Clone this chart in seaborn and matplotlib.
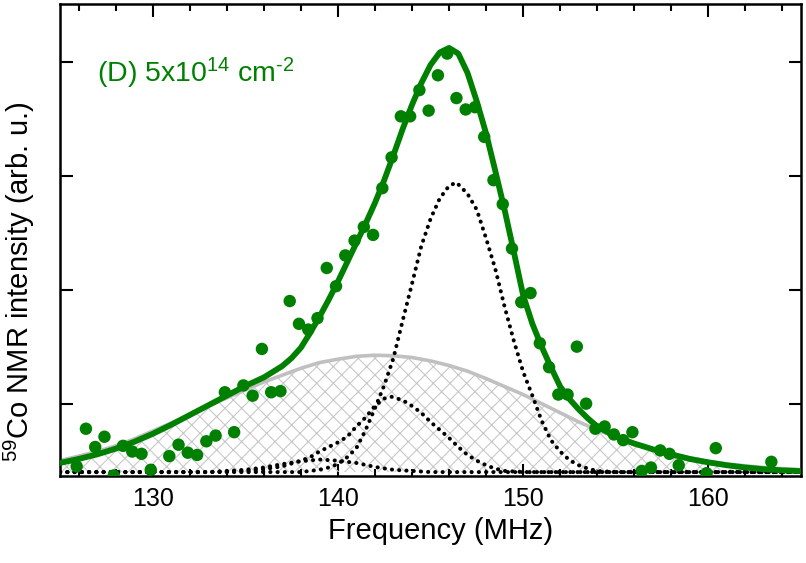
import numpy as np
import pandas as pd
import matplotlib
matplotlib.use("Agg")
import matplotlib.pyplot as plt
import seaborn as sns

# ---------------- data ----------------
pts_x = [125.9, 126.4, 126.9, 127.4, 127.9, 128.4, 128.9, 129.4, 129.9,
         130.9, 131.4, 131.9, 132.4, 132.9, 133.4, 133.9, 134.4, 134.9, 135.4,
         135.9, 136.4, 136.9, 137.4, 137.9, 138.4, 138.9, 139.4, 139.9, 140.4,
         140.9, 141.4, 141.9, 142.4, 142.9, 143.4, 143.9, 144.4, 144.9, 145.4,
         145.9, 146.4, 146.9, 147.4, 147.9, 148.4, 148.9, 149.4, 149.9, 150.4,
         150.9, 151.4, 151.9, 152.4, 152.9, 153.4, 153.9, 154.4, 154.9, 155.4,
         155.9, 156.4, 156.9, 157.4, 157.9, 158.4, 159.9, 160.4, 163.4]
pts_y = [0.05, 0.38, 0.22, 0.31, -0.03, 0.23, 0.18, 0.16, 0.02,
         0.14, 0.24, 0.17, 0.15, 0.27, 0.32, 0.70, 0.35, 0.76, 0.67,
         1.08, 0.70, 0.71, 1.50, 1.30, 1.25, 1.35, 1.79, 1.63, 1.90,
         2.03, 2.15, 2.08, 2.49, 2.76, 3.12, 3.12, 3.35, 3.17, 3.48,
         3.67, 3.28, 3.18, 3.20, 2.94, 2.56, 2.35, 1.96, 1.49, 1.57,
         1.13, 0.92, 0.68, 0.68, 1.10, 0.60, 0.38, 0.40, 0.33, 0.28,
         0.35, 0.01, 0.04, 0.19, 0.16, 0.06, -0.01, 0.21, 0.09]

# total fit (green)
fit_x = [125, 126, 127, 128, 129, 130, 131, 132, 133, 134, 135, 136, 137, 137.5,
         138, 138.5, 139, 139.5, 140, 140.5, 141, 141.5, 142, 142.5, 143, 143.5,
         144, 144.5, 145, 145.5, 146, 146.5, 147, 147.5, 148, 148.5, 149, 149.5,
         150, 150.5, 151, 151.5, 152, 152.5, 153, 153.5, 154, 155, 156, 157, 158,
         159, 160, 161, 162, 163, 164, 165]
fit_y = [0.08, 0.115, 0.155, 0.205, 0.265, 0.335, 0.415, 0.50, 0.585, 0.67, 0.755,
         0.83, 0.93, 1.00, 1.09, 1.22, 1.36, 1.51, 1.67, 1.84, 2.01, 2.18, 2.36,
         2.56, 2.78, 3.01, 3.22, 3.41, 3.57, 3.68, 3.72, 3.67, 3.50, 3.25, 2.97,
         2.64, 2.30, 1.93, 1.55, 1.30, 1.10, 0.92, 0.75, 0.64, 0.55, 0.47, 0.40,
         0.31, 0.25, 0.20, 0.155, 0.115, 0.085, 0.06, 0.04, 0.025, 0.015, 0.008]

# broad component (grey, hatched)
broad_x = [125, 126, 127, 128, 129, 130, 131, 132, 133, 134, 135, 136, 137, 138,
           139, 140, 141, 142, 143, 144, 145, 146, 147, 148, 149, 150, 151, 152,
           153, 154, 155, 156, 157, 158, 159, 160, 161, 162, 163, 164, 165]
broad_y = [0.10, 0.14, 0.18, 0.23, 0.29, 0.36, 0.43, 0.50, 0.58, 0.65, 0.72, 0.79,
           0.85, 0.91, 0.96, 0.99, 1.015, 1.025, 1.02, 1.005, 0.975, 0.935, 0.885,
           0.82, 0.75, 0.68, 0.60, 0.52, 0.44, 0.37, 0.31, 0.255, 0.205, 0.16,
           0.125, 0.095, 0.07, 0.055, 0.04, 0.03, 0.022]

# narrow component (dotted)
narrow_x = [125, 138, 139, 139.5, 140, 140.5, 141, 141.5, 142, 142.5, 143, 143.5,
            144, 144.5, 145, 145.5, 146, 146.4, 147, 147.5, 148, 148.5, 149,
            149.5, 150, 150.5, 151, 151.5, 152, 152.5, 153, 153.5, 154, 155, 165]
narrow_y = [0.0, 0.0, 0.02, 0.04, 0.07, 0.13, 0.21, 0.37, 0.56, 0.76, 1.00, 1.33,
            1.65, 1.98, 2.22, 2.40, 2.51, 2.54, 2.44, 2.30, 2.05, 1.78, 1.45,
            1.15, 0.88, 0.67, 0.45, 0.28, 0.18, 0.105, 0.06, 0.03, 0.01, 0.0, 0.0]

# medium component (dotted)
medium_x = [125, 133, 134, 135, 136, 137, 138, 138.5, 139, 139.5, 140, 140.5, 141,
            141.5, 142, 142.5, 142.9, 143.5, 144, 144.5, 145, 145.5, 146, 146.5,
            147, 147.5, 148, 148.5, 149, 150, 165]
medium_y = [0.0, 0.0, 0.005, 0.01, 0.025, 0.05, 0.10, 0.13, 0.18, 0.22, 0.26, 0.31,
            0.40, 0.48, 0.58, 0.645, 0.66, 0.63, 0.58, 0.52, 0.44, 0.37, 0.30,
            0.22, 0.15, 0.10, 0.06, 0.03, 0.01, 0.0, 0.0]

# small component (dotted)
small_x = [125, 133, 134, 135, 136, 137, 138, 139, 139.5, 140, 141, 142, 143, 144,
           145, 165]
small_y = [0.0, 0.0, 0.01, 0.02, 0.04, 0.07, 0.095, 0.11, 0.105, 0.10, 0.08, 0.045,
           0.02, 0.01, 0.0, 0.0]

x_ticks = [130, 140, 150, 160]
y_ticks = [0.6, 1.6, 2.6, 3.6]

# ---------------- style ----------------
sns.set_style("ticks")
plt.rcParams["font.family"] = ["Liberation Sans", "DejaVu Sans"]
plt.rcParams["mathtext.fontset"] = "custom"
plt.rcParams["mathtext.rm"] = "Liberation Sans"
plt.rcParams["mathtext.it"] = "Liberation Sans:italic"
plt.rcParams["mathtext.default"] = "regular"
plt.rcParams["hatch.linewidth"] = 0.8
plt.rcParams["hatch.color"] = "#c8c8c8"
plt.rcParams["text.color"] = "black"
plt.rcParams["axes.labelcolor"] = "black"
plt.rcParams["xtick.color"] = "black"
plt.rcParams["ytick.color"] = "black"

GREEN = "#008000"

fig = plt.figure(figsize=(8.06, 5.63), dpi=100)
ax = fig.add_axes([60 / 806, 1 - 475.5 / 563, 741 / 806, 471.5 / 563])

df_broad = pd.DataFrame({"x": broad_x, "y": broad_y})
ax.fill_between(df_broad["x"], 0, df_broad["y"], facecolor="none",
                edgecolor="#c8c8c8", hatch="xx", linewidth=0, zorder=1)
sns.lineplot(data=df_broad, x="x", y="y", ax=ax, color="#c0c0c0", lw=2.6,
             zorder=2, sort=False)

for cx, cy in [(small_x, small_y), (medium_x, medium_y), (narrow_x, narrow_y)]:
    d = pd.DataFrame({"x": cx, "y": cy})
    sns.lineplot(data=d, x="x", y="y", ax=ax, color="black", lw=2.9,
                 linestyle=(0, (0.05, 1.75)), dash_capstyle="round", zorder=3,
                 sort=False)

df_fit = pd.DataFrame({"x": fit_x, "y": fit_y})
sns.lineplot(data=df_fit, x="x", y="y", ax=ax, color=GREEN, lw=4.2, zorder=4,
             sort=False)

df_pts = pd.DataFrame({"x": pts_x, "y": pts_y})
sns.scatterplot(data=df_pts, x="x", y="y", ax=ax, color=GREEN, s=80,
                edgecolor="none", zorder=5)

ax.set_xlim(125, 165)
ax.set_ylim(-0.03, 4.105)
ax.set_xticks(x_ticks)
ax.set_xticks(np.arange(126, 165, 2), minor=True)
ax.set_yticks(y_ticks)
ax.tick_params(axis="both", which="major", direction="in", length=9, width=1.5,
               top=True, right=True, labelsize=18, pad=8)
ax.tick_params(axis="x", which="minor", direction="in", length=5, width=1.5,
               top=True, bottom=True)
ax.tick_params(axis="y", labelleft=False)
for sp in ax.spines.values():
    sp.set_linewidth(1.8)
    sp.set_color("black")

ax.set_xlabel("Frequency (MHz)", fontsize=21)
ax.set_ylabel("$^{59}$Co NMR intensity (arb. u.)", fontsize=21)
ax.xaxis.label.set_va("center")
ax.xaxis.set_label_coords(0.514, -0.117)
ax.yaxis.label.set_va("center")
ax.yaxis.set_label_coords(-0.055, 0.41)

ax.text(0.05, 0.834, "(D) 5x10$^{14}$ cm$^{\u2010 2}$", transform=ax.transAxes,
        color=GREEN, fontsize=20.5, ha="left", va="baseline")

fig.savefig("out.png", dpi=100)
